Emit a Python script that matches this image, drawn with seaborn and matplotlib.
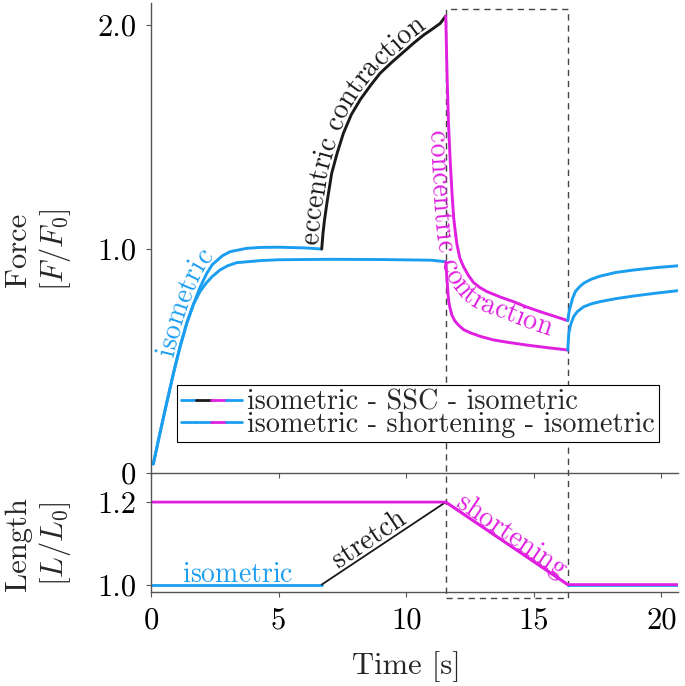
import numpy as np
import pandas as pd
import seaborn as sns
import matplotlib
matplotlib.use("Agg")
import matplotlib.pyplot as plt
from matplotlib import transforms as mtrans
from matplotlib.font_manager import FontProperties
from matplotlib.legend_handler import HandlerTuple
from matplotlib.lines import Line2D
from matplotlib.patches import Rectangle

# phase boundaries [s]
t_stretch_start = 6.69
t_stretch_end = 11.55
t_short_end = 16.33
t_end = 20.65

# force, rise shared by both trials
rise_t = [0.09, 0.35, 0.61, 0.88, 1.14, 1.40, 1.66]
rise_F = [0.04, 0.177, 0.31, 0.445, 0.564, 0.668, 0.752]

# SSC trial
ssc_iso_t = rise_t + [1.92, 2.18, 2.4, 2.8, 3.1, 3.75, 4.27, 5.0, 6.0, 6.69]
ssc_iso_F = rise_F + [0.828, 0.89, 0.93, 0.97, 0.988, 1.003, 1.007, 1.008, 1.005, 1.0]
ecc_t = [6.69, 6.74, 6.8, 6.9, 7.08, 7.3, 7.54, 7.85, 8.2, 8.6, 8.98, 9.45, 9.9,
         10.3, 10.68, 11.0, 11.33, 11.55]
ecc_F = [1.0, 1.07, 1.13, 1.21, 1.338, 1.43, 1.517, 1.6, 1.667, 1.73, 1.785, 1.835,
         1.88, 1.92, 1.955, 1.98, 2.007, 2.04]
ssc_conc_t = [11.55, 11.6, 11.66, 11.73, 11.8, 11.86, 11.93, 11.99, 12.1, 12.25,
              12.45, 12.64, 12.9, 13.16, 13.7, 14.2, 14.7, 15.25, 15.8, 16.33]
ssc_conc_F = [2.04, 1.78, 1.55, 1.38, 1.24, 1.14, 1.07, 1.02, 0.96, 0.92,
              0.88, 0.85, 0.827, 0.81, 0.785, 0.765, 0.742, 0.72, 0.70, 0.68]
ssc_post_t = [16.33, 16.38, 16.43, 16.52, 16.63, 16.78, 16.95, 17.25, 17.6, 18.2,
              18.9, 19.8, 20.65]
ssc_post_F = [0.68, 0.72, 0.742, 0.78, 0.81, 0.83, 0.847, 0.865, 0.879, 0.895,
              0.906, 0.917, 0.925]

# shortening trial
sh_iso_t = rise_t + [1.92, 2.18, 2.4, 2.7, 3.0, 3.36, 4.27, 5.0, 7.0, 9.0, 11.0, 11.55]
sh_iso_F = rise_F + [0.81, 0.85, 0.877, 0.906, 0.925, 0.939, 0.948, 0.952, 0.954,
                     0.953, 0.95, 0.943]
sh_conc_t = [11.55, 11.6, 11.66, 11.72, 11.79, 11.9, 12.05, 12.25, 12.51, 12.9,
             13.42, 14.0, 14.73, 15.5, 16.33]
sh_conc_F = [0.943, 0.86, 0.77, 0.735, 0.705, 0.68, 0.66, 0.64, 0.626, 0.61,
             0.594, 0.583, 0.571, 0.56, 0.549]
sh_post_t = [16.33, 16.37, 16.45, 16.56, 16.7, 16.95, 17.25, 17.6, 18.2, 18.9,
             19.8, 20.65]
sh_post_F = [0.549, 0.624, 0.665, 0.698, 0.72, 0.742, 0.755, 0.765, 0.778, 0.79,
             0.803, 0.814]

# length
ssc_len_t = [0, t_stretch_start, t_stretch_end, t_short_end, t_end]
ssc_len_L = [1.0, 1.0, 1.2, 1.0, 1.0]
sh_len_t = [0, t_stretch_end, t_short_end, t_end]
sh_len_L = [1.2, 1.2, 1.0, 1.0]

force_ticks = [0, 1, 2]
force_ticklabels = ["0", "1.0", "2.0"]
len_ticks = [1.0, 1.2]
len_ticklabels = ["1.0", "1.2"]
time_ticks = [0, 5, 10, 15, 20]
time_ticklabels = ["0", "5", "10", "15", "20"]
legend_labels = ["isometric - SSC - isometric",
                 "isometric - shortening - isometric"]

BLUE = "#1c9ef0"
BLACK = "#1a1a1a"
MAGENTA = "#e01fe0"
AXC = "#555555"

sns.set_theme(style="ticks")
plt.rcParams.update({
    "font.family": ["cmr10"],
    "mathtext.fontset": "cm",
    "axes.unicode_minus": False,
    "axes.formatter.use_mathtext": True,
    "axes.edgecolor": AXC,
    "axes.linewidth": 1.0,
    "xtick.color": AXC,
    "ytick.color": AXC,
    "xtick.labelcolor": "black",
    "ytick.labelcolor": "black",
})

fig = plt.figure(figsize=(6.85, 6.86), dpi=100)
ax_f = fig.add_axes([0.2204, 0.3105, 0.7694, 0.6857])
ax_l = fig.add_axes([0.2204, 0.1370, 0.7694, 0.1720])

for ax in (ax_f, ax_l):
    ax.set_facecolor("none")
    ax.set_xlim(0, t_end)
    ax.set_xticks(time_ticks)
    ax.tick_params(direction="out", length=3.6, width=0.8, labelsize=22, pad=7)
    sns.despine(ax=ax)
ax_f.set_xticklabels([])
ax_l.set_xticklabels(time_ticklabels)
ax_f.set_ylim(0, 2.1)
ax_f.set_yticks(force_ticks)
ax_f.set_yticklabels(force_ticklabels)
ax_l.set_ylim(0.982, 1.268)
ax_l.set_yticks(len_ticks)
ax_l.set_yticklabels(len_ticklabels)

# force curves
force_segs = [
    ("ssc_iso", ssc_iso_t, ssc_iso_F, BLUE),
    ("ecc", ecc_t, ecc_F, BLACK),
    ("ssc_conc", ssc_conc_t, ssc_conc_F, MAGENTA),
    ("ssc_post", ssc_post_t, ssc_post_F, BLUE),
    ("sh_iso", sh_iso_t, sh_iso_F, BLUE),
    ("sh_conc", sh_conc_t, sh_conc_F, MAGENTA),
    ("sh_post", sh_post_t, sh_post_F, BLUE),
]
force_df = pd.concat([pd.DataFrame({"time": t, "force": f, "segment": n})
                      for n, t, f, c in force_segs])
sns.lineplot(data=force_df, x="time", y="force", hue="segment",
             palette={n: c for n, t, f, c in force_segs}, estimator=None,
             sort=False, lw=2.1, legend=False, ax=ax_f)

# length curves
ssc_len_cols = [BLUE, BLACK, MAGENTA, BLUE]
ssc_len_lw = [2.0, 1.3, 2.0, 2.0]
for i in range(4):
    sns.lineplot(x=ssc_len_t[i:i + 2], y=ssc_len_L[i:i + 2], color=ssc_len_cols[i],
                 lw=ssc_len_lw[i], ax=ax_l)
sns.lineplot(x=sh_len_t, y=sh_len_L, color=MAGENTA, lw=2.0, sort=False, ax=ax_l)

ax_f.set_xlabel("")
ax_l.set_xlabel("Time [s]", fontsize=22)
ax_l.xaxis.set_label_coords(0.484, -0.50)
ax_f.set_ylabel("Force\n$[F/F_0]$", fontsize=22, linespacing=1.2)
ax_l.set_ylabel("Length\n$[L/L_0]$", fontsize=22, linespacing=1.2)
ax_f.yaxis.set_label_coords(-0.148, 0.474)
ax_l.yaxis.set_label_coords(-0.148, 0.407)

# dashed box around the concentric phase
box_tr = mtrans.blended_transform_factory(ax_l.transData, fig.transFigure)
fig.add_artist(Rectangle((t_stretch_end, 0.1283), t_short_end - t_stretch_end,
                         0.9869 - 0.1283, transform=box_tr, fill=False,
                         ec="#444444", lw=1.0, ls=(0, (4.5, 3.5)), zorder=-1))

# text along curves
renderer = fig.canvas.get_renderer()


def text_along(ax, s, xs, ys, start, offset, color, size=20):
    prop = FontProperties(family="cmr10", size=size)
    pts = ax.transData.transform(np.column_stack([xs, ys]))
    d = np.diff(pts, axis=0)
    u = d / np.hypot(d[:, 0], d[:, 1])[:, None]
    nrm = np.column_stack([-u[:, 1], u[:, 0]])
    vn = np.vstack([nrm[:1], nrm[:-1] + nrm[1:], nrm[-1:]])
    vn = vn / np.hypot(vn[:, 0], vn[:, 1])[:, None]
    path = pts + vn * offset
    arc = np.concatenate([[0], np.cumsum(np.hypot(*np.diff(path, axis=0).T))])
    base = renderer.get_text_width_height_descent("xx", prop, ismath=False)[0]
    pos = start
    for ch in s:
        w = renderer.get_text_width_height_descent("x" + ch + "x", prop,
                                                   ismath=False)[0] - base
        c = pos + w / 2
        p0 = [np.interp(c - w / 2 - 2, arc, path[:, k]) for k in (0, 1)]
        p1 = [np.interp(c + w / 2 + 2, arc, path[:, k]) for k in (0, 1)]
        pc = [np.interp(c, arc, path[:, k]) for k in (0, 1)]
        ang = np.degrees(np.arctan2(p1[1] - p0[1], p1[0] - p0[0]))
        if ch.strip():
            ax.text(pc[0], pc[1], ch, color=color, fontproperties=prop,
                    rotation=ang, rotation_mode="anchor", ha="center",
                    va="baseline", transform=mtrans.IdentityTransform())
        pos += w


text_along(ax_f, "isometric", ssc_iso_t, ssc_iso_F, 108, 4, BLUE)
text_along(ax_f, "eccentric contraction", ecc_t, ecc_F, 4, 4, BLACK)
text_along(ax_f, "concentric contraction", ssc_conc_t, ssc_conc_F, 114, -20, MAGENTA)
text_along(ax_l, "isometric", ssc_len_t[:2], ssc_len_L[:2], 31, 3, BLUE)
text_along(ax_l, "stretch", ssc_len_t[1:3], ssc_len_L[1:3], 22, 4, BLACK)
text_along(ax_l, "shortening", ssc_len_t[2:4], ssc_len_L[2:4], 9, 1, MAGENTA)

# legend with split-colour handles
h1 = tuple(Line2D([], [], color=c, lw=2) for c in (BLUE, BLACK, MAGENTA, BLUE))
h2 = tuple(Line2D([], [], color=c, lw=2) for c in (BLUE, BLUE, MAGENTA, BLUE))
leg = ax_f.legend([h1, h2], legend_labels,
                  handler_map={tuple: HandlerTuple(ndivide=None, pad=0)},
                  loc="lower left", bbox_to_anchor=(0.049, 0.066), borderaxespad=0,
                  fontsize=20.3, fancybox=False, framealpha=1, edgecolor="black",
                  handlelength=2.15, handletextpad=0.2, borderpad=0.15,
                  labelspacing=-0.15)
leg.get_frame().set_linewidth(0.8)

fig.savefig("out.png", dpi=100)
